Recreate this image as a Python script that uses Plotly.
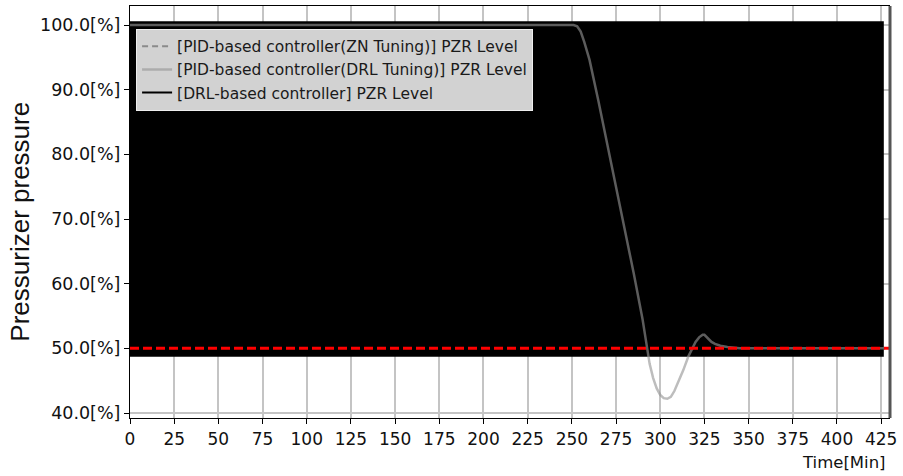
import plotly.graph_objects as go

# ---- data -------------------------------------------------------------
# PID controller (DRL tuning): pressurizer level trajectory [Min, %]
pid_drl_time = [0, 251, 253, 255, 257, 260, 265, 270, 275, 280, 285, 290, 292, 294, 296,
                298, 300, 302, 304, 306, 308, 310, 313, 316, 318, 320, 322, 324, 325, 327,
                329, 331, 334, 338, 345, 360, 380, 400, 427]
pid_drl_level = [100.0, 100.0, 99.8, 99.0, 97.4, 94.6, 88.3, 81.7, 75.0, 68.3, 61.6, 54.5,
                 50.9, 47.6, 45.4, 43.8, 42.8, 42.3, 42.2, 42.5, 43.4, 44.6, 46.6, 48.8,
                 50.0, 51.0, 51.7, 52.1, 52.1, 51.6, 51.0, 50.7, 50.4, 50.2, 50.0, 50.0,
                 50.0, 50.0, 50.0]

# PID controller (ZN tuning)
pid_zn_time = [0, 254, 262, 272, 282, 292, 300, 310, 320, 330, 345, 427]
pid_zn_level = [100.0, 100.0, 95.0, 85.0, 72.0, 60.0, 53.0, 50.5, 49.6, 50.1, 50.0, 50.0]

# DRL-based controller
drl_time = [0, 250, 300, 330, 345, 360, 366, 370, 372, 374, 378, 385, 400, 427]
drl_level = [100.0, 100.0, 60.0, 50.4, 50.1, 50.0, 49.7, 49.3, 49.1, 49.3, 49.8, 50.0,
             50.0, 50.0]

# envelope of the DRL-based controller's fast oscillation
drl_band_time = [0, 426.5]
drl_band_low = [48.7, 48.7]
drl_band_high = [100.6, 100.6]

setpoint = 50.0

x_ticks = list(range(0, 426, 25))
y_ticks = [40, 50, 60, 70, 80, 90, 100]
y_tick_text = [f"{v:.1f}[%]" for v in y_ticks]

# ---- figure -----------------------------------------------------------
fig = go.Figure()

fig.add_trace(go.Scatter(
    x=pid_zn_time, y=pid_zn_level, mode="lines", legendrank=1,
    name="[PID-based controller(ZN Tuning)] PZR Level",
    line=dict(color="#8a8a8a", width=2, dash="6px,4px"),
))

fig.add_trace(go.Scatter(
    x=drl_band_time, y=drl_band_low, mode="lines", showlegend=False,
    line=dict(color="black", width=0), hoverinfo="skip",
))
fig.add_trace(go.Scatter(
    x=drl_band_time, y=drl_band_high, mode="lines", showlegend=False,
    line=dict(color="black", width=0), fill="tonexty", fillcolor="black",
    hoverinfo="skip",
))

fig.add_trace(go.Scatter(
    x=drl_time, y=drl_level, mode="lines", legendrank=3,
    name="[DRL-based controller] PZR Level",
    line=dict(color="black", width=2),
))

fig.add_trace(go.Scatter(
    x=pid_drl_time, y=pid_drl_level, mode="lines", legendrank=2,
    name="[PID-based controller(DRL Tuning)] PZR Level",
    line=dict(color="rgba(148,148,148,0.62)", width=2.5),
))

# setpoint
fig.add_shape(type="line", xref="paper", x0=0, x1=1, yref="y", y0=setpoint, y1=setpoint,
              line=dict(color="#ff0000", width=3, dash="9px,4px"), layer="above")
# right frame edge
fig.add_shape(type="line", xref="paper", x0=1, x1=1, yref="paper", y0=0, y1=1,
              line=dict(color="#555555", width=3), layer="above")

font_main = "DejaVu Sans"

fig.update_layout(
    width=903, height=476,
    margin=dict(l=130, r=13, t=6, b=58),
    paper_bgcolor="white", plot_bgcolor="white",
    font=dict(family=font_main, size=17, color="#111111"),
    showlegend=True,
    legend=dict(
        x=0.008, y=0.945, xanchor="left", yanchor="top",
        traceorder="normal",
        bgcolor="#d2d2d2", bordercolor="#eeeeee", borderwidth=1,
        font=dict(family=font_main, size=15.5, color="#1a1a1a"),
        tracegroupgap=0, itemwidth=30,
    ),
    xaxis=dict(
        range=[0, 430], tickmode="array", tickvals=x_ticks,
        ticks="outside", ticklen=5, tickwidth=1.2, tickcolor="black",
        showline=True, linecolor="black", linewidth=1.2, mirror=True,
        showgrid=True, gridcolor="#c4c4c4", gridwidth=1.5,
        zeroline=False, tickfont=dict(size=17),
    ),
    yaxis=dict(
        range=[39.23, 102.94], tickmode="array", tickvals=y_ticks, ticktext=y_tick_text,
        ticks="outside", ticklen=5, tickwidth=1.2, tickcolor="black",
        showline=True, linecolor="black", linewidth=1.2,
        showgrid=True, gridcolor="#c4c4c4", gridwidth=1.5,
        zeroline=False, tickfont=dict(size=17.5),
    ),
    annotations=[
        dict(text="Pressurizer pressure", xref="paper", yref="paper",
             x=-0.145, y=0.476, xanchor="center", yanchor="middle", textangle=-90,
             showarrow=False, font=dict(family="Liberation Sans", size=26, color="#111111")),
        dict(text="Time[Min]", xref="paper", yref="paper",
             x=0.997, y=0, xanchor="right", yanchor="top", yshift=-33,
             showarrow=False, font=dict(family=font_main, size=16.5, color="#111111")),
    ],
)

fig.write_html("out.html")
